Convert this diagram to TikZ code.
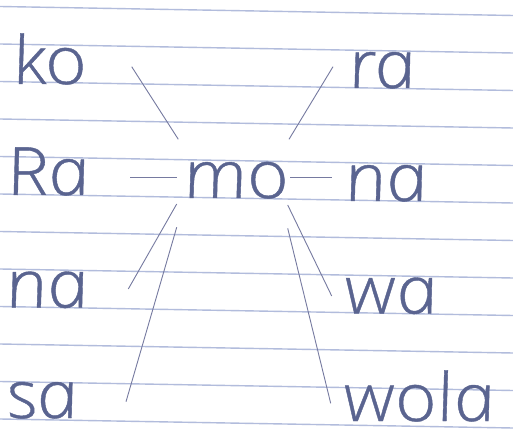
\documentclass[tikz,border=0pt]{standalone}
\usepackage{fontspec}
\newfontfamily\schoolhand{Open Sans Light}[ItalicFont={Open Sans Light Italic},
  ItalicFeatures={FakeSlant=-0.21, FakeStretch=1.12, FakeBold=0.6}]
\definecolor{ink}{RGB}{90,100,144}
\definecolor{rule}{RGB}{178,188,220}
\definecolor{pencil}{RGB}{118,122,160}

\begin{document}
\begin{tikzpicture}[x=1bp, y=-1bp,
    word/.style={anchor=base west, inner sep=0pt, text=ink, text depth=0pt,
      font=\schoolhand\itshape\fontsize{67}{67}\selectfont},
    link/.style={pencil, line width=0.9bp}]
        \useasboundingbox (0,0) rectangle (513,433);
        \fill[white] (0,0) rectangle (513,433);
        % ruled paper
        \foreach \k in {0,...,11}
            \draw[rule, line width=1.4bp] (0,{6.5+37.5*\k}) -- (513,{15.5+37.5*\k});
        % syllables
        \node[word] (ko) at (16,84) {ko};
        \node[word] (Ra) at (10,195) {Ra};
        \node[word] (naL) at (9,307.5) {na};
        \node[word] (sa) at (10,418) {sa};
        \node[word] (mo) at (187,198) {mo};
        \node[word] (ra) at (352,88) {ra};
        \node[word] (naR) at (348,201) {na};
        \node[word] (wa) at (349,313.5) {wa};
        \node[word] (wola) at (348,421) {wola};
        % line ends
        \coordinate (ko-e) at (131.7,66.7);   \coordinate (mo-ko) at (178.3,139.3);
        \coordinate (ra-e) at (333,66.7);     \coordinate (mo-ra) at (289,139.3);
        \coordinate (Ra-e) at (130,177.3);    \coordinate (mo-Ra) at (176.7,177.3);
        \coordinate (naR-e) at (331.7,177.3); \coordinate (mo-naR) at (290,177.3);
        \coordinate (naL-e) at (128.3,289);   \coordinate (mo-naL) at (176.7,204);
        \coordinate (sa-e) at (126,401.7);    \coordinate (mo-sa) at (176.7,227.3);
        \coordinate (wa-e) at (331.7,296);    \coordinate (mo-wa) at (287.7,205);
        \coordinate (wola-e) at (330.7,403.3); \coordinate (mo-wola) at (287.7,228.3);
        \foreach \w in {ko,ra,Ra,naR,naL,sa,wa,wola}
            \draw[link] (\w-e) -- (mo-\w);
    \end{tikzpicture}
\end{document}
